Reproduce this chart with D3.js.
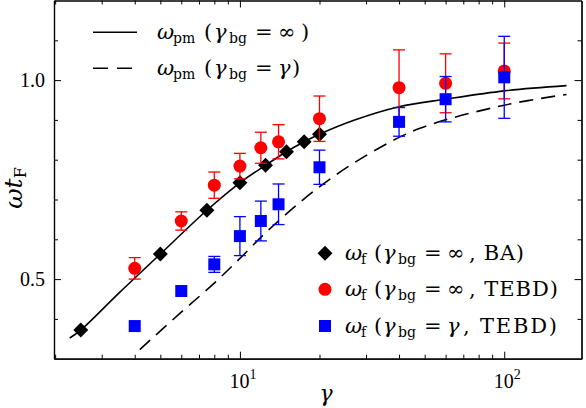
<!DOCTYPE html>
<html>
<head>
<meta charset="utf-8">
<script src="https://cdn.jsdelivr.net/npm/d3@7"></script>
<style>
  body { margin: 0; background: #fff; }
  svg { display: block; font-family: "Liberation Serif", "DejaVu Serif", serif; }
  .axis path { stroke: #000; stroke-width: 1.2; }
  .axis line { stroke: #000; stroke-width: 1; }
  .leg { font-family: "DejaVu Serif", serif; }
</style>
</head>
<body>
<script>
// omega_f, gamma_bg = inf, Bethe ansatz
const baGamma = [2.5, 5, 7.5, 10, 12.5, 15, 17.5, 20];
const baOmega = [0.372, 0.563, 0.673, 0.742, 0.786, 0.820, 0.845, 0.864];

// omega_f, gamma_bg = inf, TEBD
const infGamma = [4, 6, 8, 10, 12, 14, 20, 40, 60, 100];
const infOmega = [0.527, 0.646, 0.736, 0.784, 0.830, 0.845, 0.903, 0.981, 0.992, 1.023];
const infErr   = [0.027, 0.023, 0.033, 0.032, 0.039, 0.043, 0.057, 0.095, 0.074, 0.070];

// omega_f, gamma_bg = gamma, TEBD
const gamGamma = [4, 6, 8, 10, 12, 14, 20, 40, 60, 100];
const gamOmega = [0.382, 0.470, 0.537, 0.608, 0.646, 0.688, 0.781, 0.895, 0.952, 1.007];
const gamErr   = [0, 0, 0.020, 0.049, 0.050, 0.051, 0.043, 0.036, 0.057, 0.103];

// omega_pm curves
const pmInfGamma = [2.27, 2.5, 3.5, 5, 7.5, 10, 12.5, 15, 17.5, 20, 27, 40, 60, 100, 172];
const pmInfOmega = [0.352, 0.372, 0.466, 0.563, 0.673, 0.742, 0.786, 0.820, 0.845, 0.864, 0.899, 0.933, 0.952, 0.973, 0.986];
const pmGamGamma = [4.18, 6, 8, 10, 13, 20, 31, 48, 100, 172];
const pmGamOmega = [0.323, 0.417, 0.490, 0.552, 0.627, 0.732, 0.816, 0.879, 0.937, 0.964];

// ticks
const xMajor = [10, 100];
const xMinor = [2, 3, 4, 5, 6, 7, 8, 9, 20, 30, 40, 50, 60, 70, 80, 90];
const yMajor = [0.5, 1.0];
const yMinor = [0.4, 0.6, 0.7, 0.8, 0.9, 1.1];

const width = 586, height = 408;
const plot = { left: 54, right: 581.5, top: 0.5, bottom: 358.7 };

const x = d3.scaleLog().domain([1.98, 196]).range([plot.left, plot.right]);
const y = d3.scaleLinear().domain([0.3, 1.2]).range([plot.bottom, plot.top]);

const svg = d3.select('body').append('svg')
  .attr('width', width)
  .attr('height', height);

// curves
const line = d3.line()
  .x(d => x(d[0]))
  .y(d => y(d[1]))
  .curve(d3.curveCatmullRom);

svg.append('path')
  .datum(d3.zip(pmInfGamma, pmInfOmega))
  .attr('d', line)
  .attr('fill', 'none')
  .attr('stroke', '#000')
  .attr('stroke-width', 1.6);

svg.append('path')
  .datum(d3.zip(pmGamGamma, pmGamOmega))
  .attr('d', line)
  .attr('fill', 'none')
  .attr('stroke', '#000')
  .attr('stroke-width', 1.6)
  .attr('stroke-dasharray', '14,8');

// error bars
function errorBars(gs, vs, es, color) {
  const g = svg.append('g').attr('stroke', color).attr('stroke-width', 1.3);
  gs.forEach((gm, i) => {
    if (!es[i]) return;
    const cx = x(gm), y0 = y(vs[i] - es[i]), y1 = y(vs[i] + es[i]);
    g.append('line').attr('x1', cx).attr('x2', cx).attr('y1', y0).attr('y2', y1);
    g.append('line').attr('x1', cx - 6).attr('x2', cx + 6).attr('y1', y0).attr('y2', y0);
    g.append('line').attr('x1', cx - 6).attr('x2', cx + 6).attr('y1', y1).attr('y2', y1);
  });
}

const diamond = d3.symbol().type(d3.symbolSquare).size(112);
const circle = d3.symbol().type(d3.symbolCircle).size(133);
const square = d3.symbol().type(d3.symbolSquare).size(144);

// BA diamonds
svg.append('g').selectAll('path')
  .data(d3.zip(baGamma, baOmega))
  .join('path')
  .attr('d', diamond)
  .attr('transform', d => 'translate(' + x(d[0]) + ',' + y(d[1]) + ') rotate(45)')
  .attr('fill', '#000');

// TEBD gamma_bg = inf
errorBars(infGamma, infOmega, infErr, '#f00');
svg.append('g').selectAll('path')
  .data(d3.zip(infGamma, infOmega))
  .join('path')
  .attr('d', circle)
  .attr('transform', d => 'translate(' + x(d[0]) + ',' + y(d[1]) + ')')
  .attr('fill', '#f00');

// TEBD gamma_bg = gamma
errorBars(gamGamma, gamOmega, gamErr, '#00f');
svg.append('g').selectAll('path')
  .data(d3.zip(gamGamma, gamOmega))
  .join('path')
  .attr('d', square)
  .attr('transform', d => 'translate(' + x(d[0]) + ',' + y(d[1]) + ')')
  .attr('fill', '#00f');

// axes, ticks pointing inward on all four sides
function addAxis(axis, tr, vals, size) {
  svg.append('g').attr('class', 'axis').attr('transform', tr)
    .call(axis.tickValues(vals).tickSizeInner(-size).tickSizeOuter(0).tickFormat(''));
}
addAxis(d3.axisBottom(x), 'translate(0,' + plot.bottom + ')', xMinor, 4);
addAxis(d3.axisBottom(x), 'translate(0,' + plot.bottom + ')', xMajor, 7);
addAxis(d3.axisTop(x), 'translate(0,' + plot.top + ')', xMinor, 4);
addAxis(d3.axisTop(x), 'translate(0,' + plot.top + ')', xMajor, 7);
addAxis(d3.axisLeft(y), 'translate(' + plot.left + ',0)', yMinor, 4);
addAxis(d3.axisLeft(y), 'translate(' + plot.left + ',0)', yMajor, 7);
addAxis(d3.axisRight(y), 'translate(' + plot.right + ',0)', yMinor, 4);
addAxis(d3.axisRight(y), 'translate(' + plot.right + ',0)', yMajor, 7);

// tick labels
svg.append('g').selectAll('text')
  .data(yMajor)
  .join('text')
  .attr('x', plot.left - 9)
  .attr('y', d => y(d) + 7)
  .attr('text-anchor', 'end')
  .attr('font-size', 20)
  .text(d => d.toFixed(1));

const xl = svg.append('g').selectAll('text')
  .data(xMajor)
  .join('text')
  .attr('x', d => x(d) + 3)
  .attr('y', 388)
  .attr('text-anchor', 'middle')
  .attr('font-size', 20);
xl.append('tspan').text('10');
xl.append('tspan').attr('dy', -9).attr('font-size', 14).text(d => Math.round(Math.log10(d)));

// axis titles
svg.append('text')
  .attr('class', 'leg')
  .attr('x', 326).attr('y', 401)
  .attr('text-anchor', 'middle')
  .attr('font-size', 22)
  .attr('font-style', 'italic')
  .text('γ');

const yt = svg.append('text')
  .attr('class', 'leg')
  .attr('transform', 'translate(22,188) rotate(-90)')
  .attr('text-anchor', 'middle')
  .attr('font-size', 25);
yt.append('tspan').attr('font-style', 'italic').text('ωt');
yt.append('tspan').attr('dy', 4).attr('font-size', 16).text('F');

// legend text, pieces placed at offsets measured on the reference
function legendText(tx, ty, sub, bgVal, tail, pos, tailLen) {
  const t = svg.append('text').attr('class', 'leg').attr('y', ty).attr('font-size', 21);
  const piece = (off, s, opts) => {
    const sp = t.append('tspan').attr('x', tx + off).text(s);
    if (opts && opts.italic) sp.attr('font-style', 'italic');
    if (opts && opts.sub) sp.attr('y', ty + 4).attr('font-size', 14);
    else sp.attr('y', ty);
    if (opts && opts.len) sp.attr('textLength', opts.len).attr('lengthAdjust', 'spacing');
  };
  const isGamma = bgVal === 'γ';
  piece(0, 'ω', { italic: true });
  piece(pos[0], sub, { sub: true });
  piece(pos[1], '(');
  piece(pos[2], 'γ', { italic: true });
  piece(pos[3], 'bg', { sub: true });
  piece(pos[4], '=');
  piece(pos[5], bgVal, { italic: isGamma });
  piece(isGamma ? pos[7] : pos[6], tail, tailLen ? { len: tailLen } : null);
}

// upper-left legend
svg.append('line').attr('x1', 93).attr('x2', 137).attr('y1', 32.3).attr('y2', 32.3)
  .attr('stroke', '#000').attr('stroke-width', 1.6);
svg.append('line').attr('x1', 93).attr('x2', 137).attr('y1', 68.3).attr('y2', 68.3)
  .attr('stroke', '#000').attr('stroke-width', 1.6).attr('stroke-dasharray', '15,9');
const posTop = [16, 47, 57, 72, 98, 121, 144, 135];
legendText(157, 39, 'pm', '∞', ')', posTop);
legendText(157, 75, 'pm', 'γ', ')', posTop);

// lower-right legend
svg.append('path').attr('d', diamond).attr('transform', 'translate(325,253.3) rotate(45)').attr('fill', '#000');
svg.append('path').attr('d', circle).attr('transform', 'translate(325,289.3)').attr('fill', '#f00');
svg.append('path').attr('d', square).attr('transform', 'translate(325,326)').attr('fill', '#00f');
const posBot = [16, 29, 38, 53, 79, 102, 124, 118];
legendText(345, 260, 'f', '∞', ', BA)', posBot, 55);
legendText(345, 296, 'f', '∞', ', TEBD)', posBot, 89);
legendText(345, 333, 'f', 'γ', ', TEBD)', posBot, 94);
</script>
</body>
</html>
